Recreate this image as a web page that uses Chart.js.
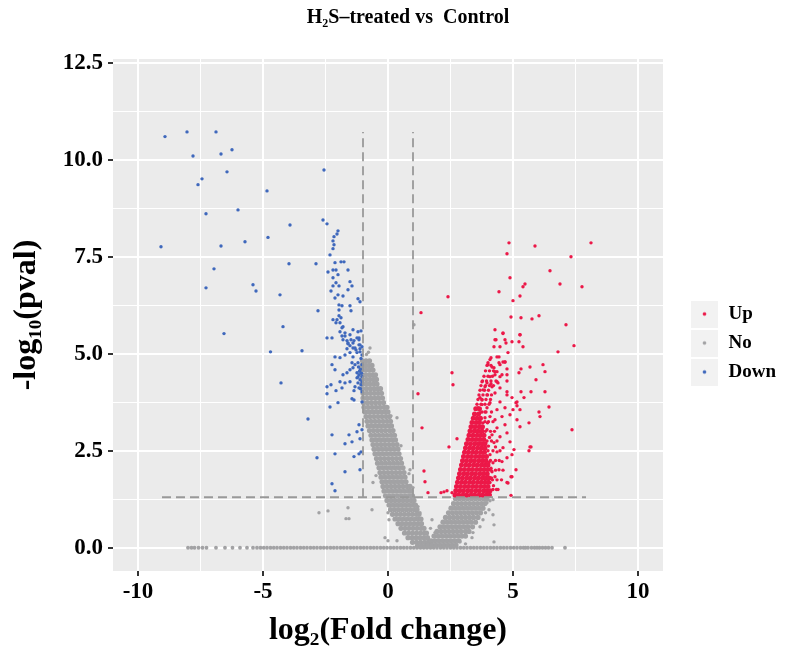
<!DOCTYPE html>
<html><head><meta charset="utf-8">
<script src="https://cdn.jsdelivr.net/npm/chart.js@4.4.1/dist/chart.umd.min.js"></script>
<style>html,body{margin:0;padding:0;background:#fff}</style>
</head><body>
<canvas id="c" width="786" height="654"></canvas>
<script>
// ---------------- data ----------------
const chartTitle = 'H\u2082S\u2013treated vs  Control';
const xTitle = 'log\u2082(Fold change)';
const yTitle = '-log\u2081\u2080(pval)';
const legendNames = ['Up', 'No', 'Down'];
const xTickLabels = [-10, -5, 0, 5, 10];
const yTickLabels = [0, 2.5, 5, 7.5, 10, 12.5];
const fcCut = [-1, 1];            // vertical dashed lines
const pCut = 1.301;               // horizontal dashed line
const hLineSpan = [-9.04, 7.92];
const vLineSpan = [1.301, 10.72];

// Down (blue) points [log2FC, -log10 p]
const downPoints = [
[-8.92,10.6],[-8.04,10.72],[-6.88,10.72],[-7.8,10.1],[-6.68,10.15],[-6.24,10.26],[-6.44,9.69],[-7.44,9.51],[-7.6,9.36],
[-7.28,8.61],[-6.0,8.71],[-9.08,7.76],[-6.68,7.78],[-5.72,7.89],[-6.96,7.19],[-7.28,6.7],[-5.4,6.78],[-5.28,6.62],
[-6.56,5.52],[-4.84,9.2],[-4.8,8.0],[-3.92,8.32],[-3.96,7.32],[-4.32,6.52],[-4.2,5.7],[-4.28,4.25],[-4.7,5.05],
[-3.44,5.08],[-3.2,3.32],[-2.88,7.32],[-2.56,9.74],[-2.6,8.45],[-2.44,8.35],
[-2.0,8.17],[-2.04,8.09],[-2.16,8.02],[-2.2,7.91],[-2.16,7.81],[-2.2,7.71],[-2.32,7.55],[-2.12,7.35],[-1.88,7.37],
[-1.76,7.37],[-2.4,7.11],[-2.2,7.16],[-2.08,7.16],[-2.0,7.04],[-1.6,7.16],[-2.2,6.96],[-2.08,6.83],[-2.2,6.75],
[-1.96,6.75],[-1.52,6.86],[-1.6,6.65],[-1.44,6.75],[-2.28,6.62],[-2.12,6.44],[-2.0,6.52],[-1.8,6.49],[-1.96,6.26],
[-1.84,6.24],[-1.52,6.24],[-1.48,6.11],[-1.12,6.34],[-1.2,6.42],[-2.8,6.11],[-1.96,6.13],[-1.96,5.98],[-2.04,5.88],
[-2.08,5.8],[-1.88,5.93],[-1.8,5.7],[-1.92,5.57],[-1.84,5.46],[-1.72,5.46],[-1.64,5.34],[-1.6,5.26],[-1.48,5.36],
[-1.36,5.34],[-1.24,5.41],[-1.16,5.41],[-1.08,5.59],[-1.64,5.13],[-1.52,5.21],[-1.4,5.15],[-1.28,5.1],[-1.12,5.13],
[-1.12,5.23],[-2.44,5.41],[-2.24,5.41],
[-2.2,5.88],[-1.92,5.8],[-1.84,5.67],[-1.72,5.54],[-1.52,5.49],[-1.4,5.62],[-1.2,5.57],[-1.16,5.36],[-1.8,5.36],
[-1.6,5.28],[-1.4,5.28],[-1.32,5.15],[-1.16,5.23],[-1.04,5.18],[-2.12,4.92],[-1.92,4.9],[-1.72,4.97],[-1.52,5.03],
[-1.4,4.92],[-1.24,5.03],[-1.12,5.05],[-1.04,4.97],[-1.44,4.77],[-1.32,4.72],[-1.2,4.77],[-1.04,4.72],[-2.24,4.72],
[-2.12,4.59],[-1.52,4.59],[-1.4,4.64],[-1.24,4.51],[-1.16,4.46],[-1.04,4.41],[-1.24,4.38],[-1.12,4.33],[-1.04,4.28],
[-1.2,4.25],[-1.08,4.2],[-1.8,4.46],[-1.64,4.51],[-1.92,4.28],[-1.72,4.25],[-1.52,4.28],[-1.32,4.15],[-1.16,4.12],
[-1.04,4.02],[-2.44,4.15],[-2.28,4.2],[-2.44,3.97],[-2.08,4.05],[-1.84,4.12],[-1.36,4.05],[-1.44,3.84],[-1.36,3.81],
[-2.0,3.74],[-1.04,3.76],[-2.32,3.63],[-1.16,3.17],[-1.24,2.99],[-1.04,3.04],[-2.24,2.91],[-1.56,2.91],[-1.44,2.73],
[-1.72,2.68],[-1.12,2.81],[-2.84,2.32],[-2.12,2.42],[-1.36,2.35],[-1.16,2.42],[-1.08,2.47],[-1.72,1.96],[-1.12,2.01],
[-2.24,1.65],[-2.12,1.47],[-1.1,4.6],[-1.08,4.88],[-1.14,4.55],[-1.06,4.5],[-1.18,4.66],[-1.1,4.1],[-1.2,4.4]
];

// Up (red) scattered points
const upPoints = [
[4.84,7.86],[5.88,7.78],[8.12,7.86],[4.76,7.58],[7.32,7.5],[6.48,7.14],[4.88,6.96],[6.88,6.8],[7.76,6.73],
[5.48,6.8],[5.4,6.73],[4.44,6.6],[2.4,6.47],[5.28,6.49],[5.0,6.37],[1.32,6.06],[4.92,5.95],[5.32,5.93],[5.76,5.9],
[6.04,5.98],[7.12,5.75],[4.28,5.62],[4.6,5.52],[4.32,5.36],[4.68,5.36],[4.96,5.31],[5.24,5.31],[5.28,5.49],
[4.24,5.18],[5.4,5.18],[7.44,5.21],[6.8,5.05],[4.8,5.03],[4.12,4.9],[4.44,4.92],[4.0,4.72],[4.24,4.64],[4.44,4.77],
[4.6,4.79],[4.68,4.79],[4.76,4.61],[4.76,4.46],[4.76,4.3],[4.28,4.46],[4.36,4.54],[4.48,4.41],[4.32,4.3],[4.4,4.25],
[4.12,4.23],[5.32,4.61],[5.24,4.51],[5.68,4.66],[6.2,4.72],[6.28,4.54],[5.92,4.33],[5.32,4.02],[5.72,4.02],
[6.28,4.02],[5.44,3.87],[4.96,3.87],[4.76,4.02],[5.12,3.74],[5.16,3.66],[5.28,3.56],[6.04,3.5],[6.44,3.63],
[6.08,3.38],[2.56,4.51],[2.6,4.2],[1.2,3.97],[1.36,3.09],[2.76,2.81],[2.44,2.6],[1.44,1.98],[1.48,1.7],[1.6,1.42],
[2.12,1.42],[2.24,1.44],[2.36,1.47],[2.56,1.42],[5.64,3.22],[5.72,2.6],[5.64,2.5],[7.36,3.04],[5.12,2.01],[4.96,1.83],
[4.8,1.67],[4.92,1.35],
[4.0,1.42],[4.08,1.68],[4.28,1.83],[4.16,1.96],[4.44,2.01],[4.76,1.68],[4.92,1.83],[4.2,2.19],[4.56,2.22],[4.76,2.32],
[4.96,2.4],[4.36,2.47],[4.08,2.4],[4.6,2.58],[5.04,2.53],[5.68,2.6],[4.88,2.73],[4.24,2.71],[4.48,2.86],[4.76,2.96],
[4.16,2.91],[3.96,3.04],[4.36,3.09],[4.68,3.17],[5.16,3.3],[4.28,3.3],[4.08,3.38],[4.56,3.38],[4.88,3.43],[5.28,3.12],
[3.88,3.5],[4.36,3.56],[4.68,3.61],[5.0,3.56],[3.76,3.69],[4.08,3.74],[4.48,3.76],[5.16,3.76],[3.68,3.87],[3.96,3.94],
[4.28,3.99],[4.76,3.94],[3.8,4.07],[4.16,4.15],[4.48,4.12],[3.96,4.25],[4.36,4.28],[4.08,4.41],[4.56,4.46],[4.28,4.54],
[4.16,4.66],[4.48,4.72],[4.68,4.79],[4.08,4.85],[4.36,4.92],[4.0,4.77],[4.48,5.18],[4.72,5.28],[4.28,5.36],[5.28,5.49],
[4.6,5.54],[3.68,3.3],[3.8,3.22],[3.68,3.48],[3.88,3.35],[3.6,3.61],[3.96,3.61],[3.76,3.81],[3.88,4.15],[3.76,4.28],
[4.12,2.05],[4.3,2.6],[4.02,2.62],[4.06,2.84],[3.98,3.22],[4.22,1.6],[4.4,1.5],[4.14,1.8],[4.04,2.2],[3.98,1.9]
];

// Up (red) semi-dense band around the core, rows: [y, x, x, ...]
const upMidRows = [
[4.7,3.96,4.12],
[4.56,3.9,4.06,4.22],
[4.42,3.84,4.0,4.18],
[4.3,3.78,3.94,4.12],
[4.18,3.72,3.9,4.06,4.22],
[4.06,3.68,3.86,4.02],
[3.94,3.64,3.8,3.98,4.14],
[3.82,3.6,3.76,3.92,4.1],
[3.7,3.56,3.72,3.88,4.04],
[3.5,3.76,3.92,4.14],
[3.25,3.88,4.02,4.2],
[3.0,3.9,4.1,4.26],
[2.75,3.96,4.14,4.36],
[2.5,4.0,4.2,4.48],
[2.25,4.1,4.3,4.45],
[2.0,4.12,4.3,4.6],
[1.75,4.18,4.36,4.54],
[1.5,4.2,4.34]
];

// Up (red) dense core, rows: [y, x, x, ...]
const upDenseRows = [
[1.36,2.68,2.83,3.0,3.15,3.32,3.47,3.64,3.79,3.94,4.06],
[1.47,2.71,2.87,3.02,3.19,3.34,3.51,3.66,3.83,3.96,4.08],
[1.58,2.74,2.9,3.07,3.22,3.39,3.54,3.71,3.86,4.0],
[1.69,2.78,2.95,3.1,3.27,3.42,3.59,3.74,3.89,4.02],
[1.8,2.82,2.98,3.15,3.3,3.47,3.62,3.78,3.91,4.04],
[1.91,2.86,3.03,3.18,3.35,3.5,3.67,3.82,3.97],
[2.02,2.9,3.06,3.23,3.38,3.55,3.7,3.85,3.99],
[2.13,2.94,3.11,3.26,3.43,3.58,3.74,3.88,4.0],
[2.24,2.98,3.14,3.31,3.46,3.63,3.78,3.92],
[2.35,3.02,3.19,3.34,3.51,3.66,3.8,3.94],
[2.46,3.06,3.22,3.39,3.54,3.71,3.86],
[2.57,3.1,3.27,3.42,3.59,3.74,3.88],
[2.68,3.14,3.3,3.47,3.62,3.76,3.88],
[2.79,3.2,3.37,3.52,3.68,3.83],
[2.9,3.24,3.4,3.57,3.71,3.84],
[3.01,3.28,3.45,3.6,3.76],
[3.12,3.32,3.48,3.65,3.78],
[3.23,3.36,3.53,3.66],
[3.34,3.41,3.56,3.7],
[3.45,3.46,3.62],
[3.58,3.51,3.66]
];

// No (grey) scattered points
const noPoints = [
[-0.72,5.15],[-0.86,4.98],[-0.78,5.04],[-2.76,0.9],[-2.4,0.95],[-1.68,0.75],[-1.56,0.75],[-1.6,1.03],[-0.64,0.98],
[-0.6,1.68],[-0.48,1.86],[0.12,3.4],[0.36,3.35],[0.52,2.63],[0.88,2.01],[0.84,1.91],[0.0,0.9],[0.04,0.72],
[-0.12,0.26],[0.0,0.18],[0.36,0.18],[1.04,5.75],[1.0,1.55],[1.2,1.06],[1.28,0.9],[1.76,0.72],[1.88,0.39],[1.7,0.5],
[4.2,0.85],[4.24,0.59],[4.24,0.15],[4.04,0.98],[3.96,1.16],[4.08,1.21],[4.2,1.24],[3.8,0.72],[3.68,0.54],[3.4,0.39],
[3.36,0.26],[2.88,0.15],[3.1,0.1],[3.9,0.9],[3.76,1.0]
];

// No (grey) dense left arm + right arm, rows: [y, x, x, ...]
const noDenseRows = [
[4.82,-1.02,-0.88,-0.74],
[4.7,-1.04,-0.9,-0.77,-0.64],
[4.58,-1.03,-0.88,-0.73,-0.6],
[4.46,-1.04,-0.9,-0.75,-0.61,-0.5],
[4.34,-1.02,-0.87,-0.72,-0.58,-0.46],
[4.22,-1.03,-0.88,-0.73,-0.58,-0.44],
[4.1,-1.02,-0.86,-0.7,-0.55,-0.41,-0.3],
[3.98,-1.0,-0.85,-0.7,-0.55,-0.4,-0.26],
[3.86,-1.0,-0.84,-0.68,-0.52,-0.37,-0.22],
[3.74,-0.98,-0.82,-0.66,-0.5,-0.34,-0.18],
[3.62,-0.96,-0.8,-0.64,-0.48,-0.32,-0.16,-0.04],
[3.5,-0.92,-0.76,-0.6,-0.44,-0.28,-0.12,0.0],
[3.38,-0.88,-0.72,-0.56,-0.4,-0.24,-0.08,0.06],
[3.26,-0.84,-0.68,-0.52,-0.36,-0.2,-0.04,0.1],
[3.14,-0.8,-0.64,-0.48,-0.32,-0.16,0.0,0.14],
[3.02,-0.74,-0.58,-0.42,-0.26,-0.1,0.06,0.2],
[2.9,-0.68,-0.52,-0.36,-0.2,-0.04,0.12,0.26],
[2.78,-0.64,-0.48,-0.32,-0.16,0.0,0.16,0.3],
[2.66,-0.6,-0.44,-0.28,-0.12,0.04,0.2,0.36],
[2.54,-0.56,-0.4,-0.24,-0.08,0.08,0.24,0.4],
[2.42,-0.52,-0.36,-0.2,-0.04,0.12,0.28,0.44],
[2.3,-0.46,-0.3,-0.14,0.02,0.18,0.34,0.5],
[2.18,-0.42,-0.26,-0.1,0.06,0.22,0.38,0.54],
[2.06,-0.36,-0.2,-0.04,0.12,0.28,0.44,0.6],
[1.94,-0.32,-0.16,0.0,0.16,0.32,0.48,0.64],
[1.82,-0.28,-0.12,0.04,0.2,0.36,0.52,0.68],
[1.7,-0.24,-0.08,0.08,0.24,0.4,0.56,0.72],
[1.58,-0.2,-0.04,0.12,0.28,0.44,0.6,0.76,0.88],
[1.46,-0.16,0.0,0.16,0.32,0.48,0.64,0.8,0.92],
[1.34,-0.1,0.06,0.22,0.38,0.54,0.7,0.86,0.98],
[1.22,-0.04,0.12,0.28,0.44,0.6,0.76,0.92,1.04],
[1.1,0.04,0.2,0.36,0.52,0.68,0.84,1.0,1.1],
[0.98,0.1,0.26,0.42,0.58,0.74,0.9,1.06,1.16],
[0.86,0.18,0.34,0.5,0.66,0.82,0.98,1.14,1.24],
[0.74,0.28,0.44,0.6,0.76,0.92,1.08,1.22,1.32],
[0.62,0.4,0.56,0.72,0.88,1.04,1.2,1.34],
[0.5,0.52,0.68,0.84,1.0,1.16,1.32,1.44],
[0.38,0.66,0.82,0.98,1.14,1.3,1.46,1.54],
[0.26,0.8,0.96,1.12,1.28,1.44,1.58],
[0.14,0.98,1.14,1.3,1.46,1.6,1.7],
[0.04,1.18,1.34,1.5,1.64,1.76],
[1.26,2.7,2.86,3.02,3.18,3.34,3.5,3.66,3.82,3.96],
[1.14,2.62,2.78,2.94,3.1,3.26,3.42,3.58,3.74,3.88],
[1.02,2.52,2.68,2.84,3.0,3.16,3.32,3.48,3.64,3.8],
[0.9,2.42,2.58,2.74,2.9,3.06,3.22,3.38,3.54,3.7],
[0.78,2.3,2.46,2.62,2.78,2.94,3.1,3.26,3.42,3.6],
[0.66,2.2,2.36,2.52,2.68,2.84,3.0,3.16,3.32,3.5],
[0.54,2.08,2.24,2.4,2.56,2.72,2.88,3.04,3.2,3.38],
[0.42,1.96,2.12,2.28,2.44,2.6,2.76,2.92,3.1,3.24],
[0.3,1.84,2.0,2.16,2.32,2.48,2.64,2.8,2.96,3.1],
[0.18,1.72,1.88,2.04,2.2,2.36,2.52,2.68,2.84],
[0.07,1.6,1.76,1.92,2.08,2.24,2.4,2.56,2.72]
];

// No (grey) genes with -log10 p = 0: x positions along the bottom band
const noZeroBandX = [
-8.0,-7.86,-7.74,-7.58,-7.42,-7.26,-6.88,-6.52,-6.22,-5.92,-5.64,-5.4,-5.24,-5.1,-4.97,-4.84,-4.7,-4.57,-4.44,-4.3,
-4.17,-4.04,-3.9,-3.77,-3.64,-3.5,-3.37,-3.24,-3.1,-2.97,-2.84,-2.7,-2.57,-2.44,-2.3,-2.17,-2.04,-1.9,-1.77,-1.64,
-1.5,-1.37,-1.24,-1.1,-0.97,-0.84,-0.7,-0.57,-0.44,-0.3,-0.17,-0.04,0.1,0.23,0.36,0.5,0.63,0.76,0.9,1.03,1.16,1.3,
1.43,1.56,1.7,1.83,1.96,2.1,2.23,2.36,2.5,2.63,2.76,2.9,3.03,3.16,3.3,3.43,3.56,3.7,3.83,3.96,4.1,4.23,4.36,4.5,
4.63,4.76,4.9,5.03,5.16,5.3,5.42,5.5,5.6,5.74,5.86,5.96,6.06,6.18,6.3,6.42,6.56,7.08
];

// ---------------- build ----------------
const toXY = arr => arr.map(p => ({x: p[0], y: p[1]}));
const rowsToXY = rows => rows.flatMap(r => r.slice(1).map(x => ({x: x, y: r[0]})));

const COL = {Up: '#EC1848', No: '#A2A2A4', Down: '#3F68BC'};
const SERIF = "'Liberation Serif', 'Times New Roman', serif";

function keyImage(color) {
  const c = document.createElement('canvas');
  c.width = 46; c.height = 27;
  const g = c.getContext('2d');
  g.fillStyle = '#F2F2F2';
  g.fillRect(18, 0, 27, 27);
  g.fillStyle = color;
  g.beginPath(); g.arc(31.5, 13.5, 1.8, 0, Math.PI * 2); g.fill();
  return c;
}
const keyImgs = legendNames.map(n => keyImage(COL[n]));

const isMajX = v => Math.abs(v % 5) < 1e-9;
const isMajY = v => Math.abs(v % 2.5) < 1e-9;

const panelBg = {
  id: 'panelBg',
  beforeDraw(chart) {
    const {ctx, chartArea: a} = chart;
    ctx.save();
    ctx.fillStyle = '#EBEBEB';
    ctx.fillRect(a.left, a.top, a.right - a.left, a.bottom - a.top);
    ctx.restore();
  }
};
// the ggplot title sits a little right of the panel centre
const titleShift = {
  id: 'titleShift',
  afterLayout(chart) {
    const t = chart.titleBlock;
    if (t) { t.left += 20; t.right += 20; }
  }
};

const dashStyle = {type: 'line', showLine: true, borderColor: '#999999', borderWidth: 1.8, borderDash: [9, 5],
  pointRadius: 0, fill: false, order: 0};
const pt = r => ({pointRadius: r, borderWidth: 0, pointHoverRadius: r});

new Chart(document.getElementById('c'), {
  type: 'scatter',
  data: {
    datasets: [
      Object.assign({label: 'cut-h', data: hLineSpan.map(x => ({x: x, y: pCut}))}, dashStyle),
      Object.assign({label: 'cut-v1', data: vLineSpan.map(y => ({x: fcCut[0], y: y}))}, dashStyle),
      Object.assign({label: 'cut-v2', data: vLineSpan.map(y => ({x: fcCut[1], y: y}))}, dashStyle),
      Object.assign({label: legendNames[0], data: toXY(upPoints).concat(rowsToXY(upMidRows)), backgroundColor: COL.Up, order: 1}, pt(1.7)),
      Object.assign({label: legendNames[0] + ' core', data: rowsToXY(upDenseRows), backgroundColor: COL.Up, order: 1}, pt(2.5)),
      Object.assign({label: legendNames[2], data: toXY(downPoints), backgroundColor: COL.Down, order: 2}, pt(1.7)),
      Object.assign({label: legendNames[1], data: toXY(noPoints), backgroundColor: COL.No, order: 3}, pt(1.7)),
      Object.assign({label: legendNames[1] + ' core', data: rowsToXY(noDenseRows), backgroundColor: COL.No, order: 3}, pt(2.6)),
      Object.assign({label: legendNames[1] + ' p=1', data: noZeroBandX.map(x => ({x: x, y: 0})), backgroundColor: COL.No, order: 3}, pt(1.9))
    ]
  },
  options: {
    responsive: false,
    animation: false,
    events: [],
    layout: {padding: 0},
    scales: {
      x: {
        type: 'linear', min: -11, max: 11,
        afterFit: s => { s.height = 83; },
        border: {display: false},
        grid: {
          color: '#FFFFFF',
          lineWidth: c => (c.tick && isMajX(c.tick.value)) ? 2 : 1,
          tickColor: c => (c.tick && isMajX(c.tick.value)) ? '#333333' : 'rgba(0,0,0,0)',
          tickLength: 5, tickWidth: 2
        },
        ticks: {
          stepSize: 2.5, autoSkip: false, maxTicksLimit: 40, includeBounds: false, maxRotation: 0, padding: 2,
          color: '#000', font: {family: SERIF, size: 23, weight: 'bold'},
          callback: v => (isMajX(v) && xTickLabels.includes(v)) ? String(v) : ''
        },
        title: {display: true, text: xTitle, color: '#000', font: {family: SERIF, size: 32, weight: 'bold'},
          padding: {top: 0, bottom: 4}}
      },
      y: {
        type: 'linear', min: -0.6, max: 12.6,
        afterFit: s => { s.width = 113; },
        border: {display: false},
        grid: {
          color: '#FFFFFF',
          lineWidth: c => (c.tick && isMajY(c.tick.value)) ? 2 : 1,
          tickColor: c => (c.tick && isMajY(c.tick.value)) ? '#333333' : 'rgba(0,0,0,0)',
          tickLength: 5, tickWidth: 2
        },
        ticks: {
          stepSize: 1.25, autoSkip: false, maxTicksLimit: 40, includeBounds: false, padding: 5,
          color: '#000', font: {family: SERIF, size: 23, weight: 'bold'},
          callback: v => (isMajY(v) && yTickLabels.includes(v)) ? v.toFixed(1) : ''
        },
        title: {display: true, text: yTitle, color: '#000', font: {family: SERIF, size: 32, weight: 'bold'},
          padding: {top: 8, bottom: 0}}
      }
    },
    plugins: {
      title: {
        display: true, text: chartTitle, fullSize: false, color: '#000',
        font: {family: SERIF, size: 20, weight: 'bold'},
        padding: {top: 6, bottom: 29}
      },
      legend: {
        display: true, position: 'right', align: 'center',
        title: {display: true, text: ' ', font: {size: 10}, padding: {top: 10, bottom: 10}},
        labels: {
          usePointStyle: true, pointStyleWidth: 46, padding: 10, color: '#000',
          font: {family: SERIF, size: 19, weight: 'bold'},
          generateLabels: () => legendNames.map((n, i) => ({
            text: n, pointStyle: keyImgs[i], fontColor: '#000', fillStyle: COL[n],
            strokeStyle: 'rgba(0,0,0,0)', lineWidth: 0, hidden: false
          }))
        }
      },
      tooltip: {enabled: false}
    }
  },
  plugins: [panelBg, titleShift]
});
</script>
</body></html>
